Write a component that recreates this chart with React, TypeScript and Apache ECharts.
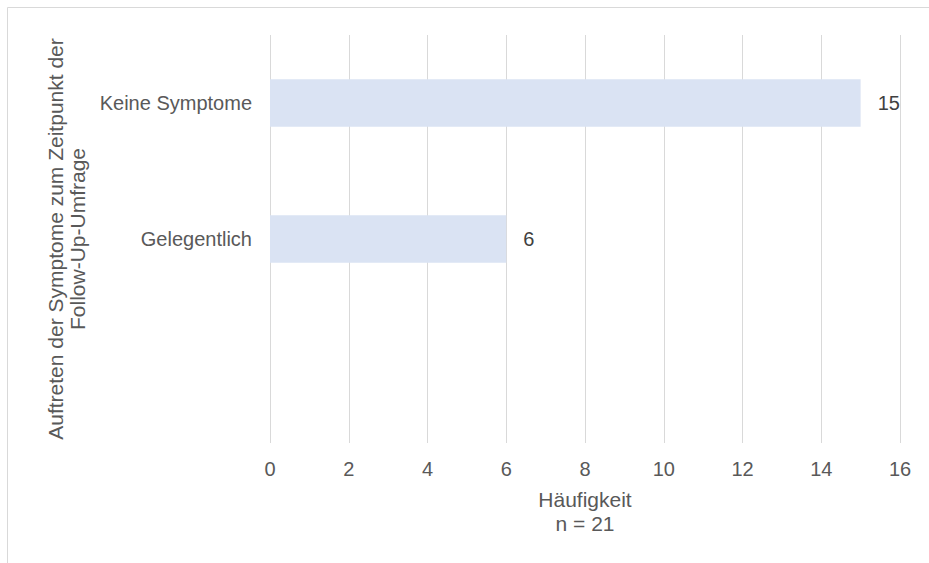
import React, { useEffect, useRef } from "react";
import * as echarts from "echarts";

// Symptom occurrence at follow-up survey
const categories: string[] = ["Keine Symptome", "Gelegentlich", ""];
const counts: (number | null)[] = [15, 6, null];
const xTicks: number[] = [0, 2, 4, 6, 8, 10, 12, 14, 16];

const yTitle = "Auftreten der Symptome zum Zeitpunkt der\nFollow-Up-Umfrage";
const xTitle = "Häufigkeit\nn = 21";

const FONT = "'Liberation Sans', Arial, sans-serif";
const TEXT = "#595959";
const GRID = "#d9d9d9";
const BAR = "#dae3f3";

export default function App() {
  const ref = useRef<HTMLDivElement>(null);

  useEffect(() => {
    if (!ref.current) return;
    const chart = echarts.init(ref.current, undefined, { renderer: "svg" });
    chart.setOption({
      animation: false,
      backgroundColor: "#ffffff",
      textStyle: { fontFamily: FONT },
      graphic: [
        {
          type: "rect",
          shape: { x: 7.5, y: 7.5, width: 1000, height: 1000 },
          style: { fill: "none", stroke: GRID, lineWidth: 1 },
          silent: true,
          z: -1,
        },
      ],
      grid: { left: 270, right: 29, top: 35, bottom: 120, containLabel: false },
      xAxis: {
        type: "value",
        min: xTicks[0],
        max: xTicks[xTicks.length - 1],
        interval: 2,
        axisLine: { show: false },
        axisTick: { show: false },
        splitLine: { show: true, lineStyle: { color: GRID, width: 1 } },
        axisLabel: { color: TEXT, fontSize: 20, fontFamily: FONT, margin: 16 },
        name: xTitle,
        nameLocation: "middle",
        nameGap: 44,
        nameTextStyle: { color: TEXT, fontSize: 21, fontFamily: FONT, lineHeight: 24 },
      },
      yAxis: {
        type: "category",
        data: categories,
        inverse: true,
        axisLine: { show: false },
        axisTick: { show: false },
        splitLine: { show: false },
        axisLabel: { color: TEXT, fontSize: 20, fontFamily: FONT, margin: 18 },
        name: yTitle,
        nameLocation: "middle",
        nameRotate: 90,
        nameGap: 181,
        nameTextStyle: { color: TEXT, fontSize: 21, fontFamily: FONT, lineHeight: 22 },
      },
      series: [
        {
          type: "bar",
          data: counts,
          barWidth: "35%",
          itemStyle: { color: BAR },
          label: {
            show: true,
            position: "right",
            distance: 17,
            color: "#404040",
            fontSize: 20,
            fontFamily: FONT,
          },
        },
      ],
    });
    return () => chart.dispose();
  }, []);

  return (
    <div
      ref={ref}
      style={{ position: "fixed", left: 0, top: 0, width: 929, height: 563 }}
    />
  );
}
